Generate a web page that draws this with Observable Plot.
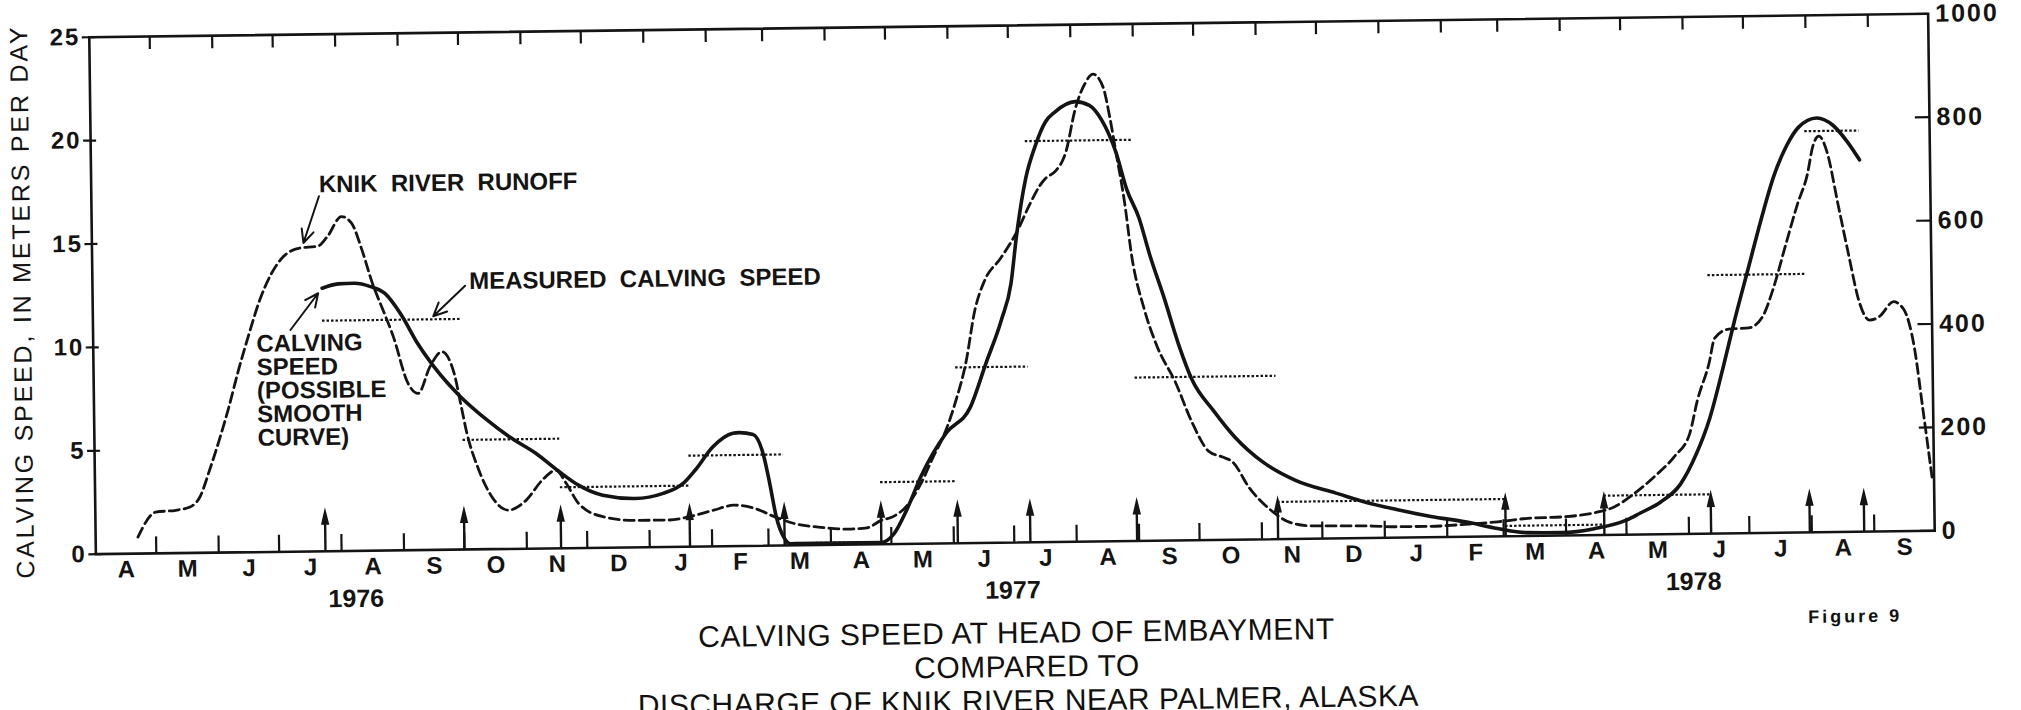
<!DOCTYPE html>
<html>
<head>
<meta charset="utf-8">
<script src="https://cdn.jsdelivr.net/npm/d3@7"></script>
<script src="https://cdn.jsdelivr.net/npm/@observablehq/plot@0.6"></script>
<style>
  html, body { margin: 0; padding: 0; background: #fff; }
  #wrap { position: relative; width: 2021px; height: 710px; transform: rotate(-0.73deg); transform-origin: 1011.75px 283.9px; }
  .tline { position: absolute; width: 1200px; text-align: center; font-family: "Liberation Sans", Arial, Helvetica, sans-serif; font-size: 30px; line-height: 34px; letter-spacing: 0.5px; color: #111; white-space: nowrap; }
  #fig { position: absolute; left: 1751px; top: 617px; width: 200px; text-align: center; font-family: "Liberation Sans", Arial, sans-serif; font-weight: bold; font-size: 18px; line-height: 20px; letter-spacing: 3px; color: #111; }
</style>
</head>
<body>
<div id="wrap">
  <div id="chart"></div>
  <div class="tline" id="t1" style="left:412px; top:616px;"></div>
  <div class="tline" id="t2" style="left:422px; top:650px;"></div>
  <div class="tline" id="t3" style="left:423px; top:684px;"></div>
  <div id="fig"></div>
</div>
<script>
// ---------- DATA ----------
// Knik River runoff (dashed), right-axis units
const runoffDates = [
  "1976-04-22","1976-05-01","1976-05-11","1976-05-18","1976-05-23","1976-05-28","1976-06-02","1976-06-07",
  "1976-06-12","1976-06-17","1976-06-23","1976-06-29","1976-07-05","1976-07-13","1976-07-22","1976-07-27",
  "1976-08-03","1976-08-08","1976-08-13","1976-08-18","1976-08-23","1976-08-28","1976-09-04","1976-09-09",
  "1976-09-15","1976-09-21","1976-09-27","1976-09-30","1976-10-03","1976-10-08","1976-10-15","1976-10-23",
  "1976-11-01","1976-11-09","1976-11-16","1976-11-21","1976-11-27","1976-12-09","1976-12-25",
  "1977-01-11","1977-01-21","1977-02-02","1977-02-12","1977-02-16","1977-02-24","1977-03-04","1977-03-14",
  "1977-03-27","1977-04-09","1977-04-19","1977-04-26","1977-05-02","1977-05-09","1977-05-16","1977-05-22",
  "1977-05-29","1977-06-03","1977-06-08","1977-06-13","1977-06-18","1977-06-26","1977-07-04","1977-07-11",
  "1977-07-16","1977-07-19","1977-07-24","1977-07-29","1977-08-03","1977-08-08","1977-08-12","1977-08-17",
  "1977-08-20","1977-08-23","1977-08-27","1977-08-30","1977-09-05","1977-09-11","1977-09-20","1977-09-28",
  "1977-10-06","1977-10-13","1977-10-18","1977-10-26","1977-11-05","1977-11-15","1977-11-25","1977-12-11",
  "1977-12-26",
  "1978-01-07","1978-01-24","1978-02-10","1978-02-26","1978-03-13","1978-03-30","1978-04-15","1978-04-25",
  "1978-05-05","1978-05-15","1978-05-25","1978-06-02","1978-06-06","1978-06-12","1978-06-15","1978-06-22",
  "1978-07-02","1978-07-09","1978-07-14","1978-07-21","1978-07-27","1978-08-01","1978-08-04","1978-08-07",
  "1978-08-11","1978-08-16","1978-08-21","1978-08-26","1978-08-31","1978-09-05","1978-09-12","1978-09-17",
  "1978-09-22","1978-09-26","1978-09-30"
];
const runoffDischarge = [
  32, 80, 83, 89, 108, 160, 218, 282,
  353, 417, 488, 539, 571, 587, 590, 609,
  647, 634, 582, 517, 466, 414, 323, 303,
  354, 383, 341, 283, 224, 160, 101, 75,
  94, 132, 151, 125, 86, 60, 52,
  52, 58, 70, 79, 78, 70, 56, 42,
  34, 30, 32, 46, 53, 74, 116, 165,
  221, 277, 347, 452, 508, 550, 599, 655,
  690, 704, 718, 753, 837, 886, 904, 878,
  822, 751, 652, 554, 448, 377, 306, 228,
  172, 160, 150, 100, 58, 32, 25, 24,
  23,
  21, 21, 24, 28, 34, 36, 43, 54,
  79, 111, 149, 194, 258, 329, 378, 395,
  397, 419, 468, 559, 636, 692, 748, 766,
  734, 635, 536, 444, 409, 416, 444, 429,
  356, 232, 104
];

// Calving speed, possible smooth curve (solid), m/day
const calvingDates = [
  "1976-07-24","1976-08-01","1976-08-09","1976-08-17","1976-08-24","1976-09-01","1976-09-09","1976-09-17",
  "1976-09-30","1976-10-13","1976-10-24","1976-11-06","1976-11-17","1976-11-27","1976-12-09","1976-12-25",
  "1977-01-08","1977-01-18","1977-01-24","1977-02-02","1977-02-12","1977-02-15","1977-02-22","1977-02-27",
  "1977-03-02","1977-03-05","1977-03-09","1977-03-12","1977-04-26","1977-05-02","1977-05-09","1977-05-16",
  "1977-05-29","1977-06-10","1977-06-18","1977-06-26","1977-07-01","1977-07-04","1977-07-09","1977-07-14",
  "1977-07-19","1977-07-24","1977-08-03","1977-08-10","1977-08-16","1977-08-23","1977-08-28","1977-09-03",
  "1977-09-08","1977-09-15","1977-09-22","1977-09-28","1977-10-09","1977-10-19","1977-11-02","1977-11-18",
  "1977-12-08","1977-12-26",
  "1978-01-07","1978-01-24","1978-02-10","1978-02-26","1978-03-13","1978-03-30","1978-04-15","1978-05-01",
  "1978-05-08","1978-05-18","1978-05-28","1978-06-05","1978-06-12","1978-06-19","1978-06-25","1978-07-02",
  "1978-07-09","1978-07-15","1978-07-22","1978-07-28","1978-08-06","1978-08-14","1978-08-21","1978-08-27"
];
const calvingSpeed = [
  12.72, 12.92, 12.94, 12.77, 12.44, 11.4, 10.0, 8.86,
  7.39, 6.25, 5.42, 4.61, 3.75, 3.04, 2.54, 2.36,
  2.59, 3.06, 3.69, 4.81, 5.45, 5.48, 5.38, 4.40,
  2.99, 1.39, 0.33, 0.08, 0.08, 0.45, 1.68, 3.24,
  5.35, 6.56, 8.67, 10.77, 12.52, 14.8, 17.61, 19.19,
  20.3, 20.8, 21.28, 21.09, 20.38, 18.78, 17.02, 15.6,
  13.84, 11.71, 9.42, 7.82, 6.22, 4.98, 3.73, 2.83,
  2.19, 1.64,
  1.36, 1.0, 0.72, 0.38, 0.16, 0.14, 0.31, 0.70,
  1.04, 1.55, 2.4, 3.83, 5.57, 8.03, 10.31, 12.77,
  15.23, 17.15, 18.73, 19.6, 20.03, 19.67, 18.87, 17.98
];

// Measured calving speed between successive measurement dates (dotted), m/day
const measuredStart = ["1976-07-24","1976-10-01","1976-11-18","1977-01-21","1977-03-09","1977-04-26","1977-06-03",
  "1977-07-09","1977-08-31","1977-11-09","1978-03-02","1978-04-20","1978-06-12","1978-07-31"];
const measuredEnd = ["1976-10-01","1976-11-18","1977-01-21","1977-03-09","1977-04-26","1977-06-03","1977-07-09",
  "1977-08-31","1977-11-09","1978-03-02","1978-04-20","1978-06-12","1978-07-31","1978-08-27"];
const measuredSpeed = [11.15, 5.3, 2.95, 4.4, 0.1, 3.0, 8.5, 19.4, 7.9, 1.8, 0.5, 1.9, 12.5, 19.4];

// Measurement dates (upward arrows)
const measurementDates = ["1976-07-24","1976-10-01","1976-11-18","1977-01-21","1977-03-09","1977-04-26","1977-06-03",
  "1977-07-09","1977-08-31","1977-11-09","1978-03-02","1978-04-20","1978-06-12","1978-07-31","1978-08-27"];

// Axes / labels
const leftTicks = [0, 5, 10, 15, 20, 25];
const rightTicks = [0, 200, 400, 600, 800, 1000];
const monthLetters = ["A","M","J","J","A","S","O","N","D","J","F","M","A","M","J","J","A","S",
  "O","N","D","J","F","M","A","M","J","J","A","S"];
const yearLabels = ["1976", "1977", "1978"];
const yearLabelDates = ["1976-08-08", "1977-06-30", "1978-06-03"];
const yTitle = "CALVING SPEED, IN METERS PER DAY";
const titleLines = ["CALVING SPEED AT HEAD OF EMBAYMENT", "COMPARED TO", "DISCHARGE OF KNIK RIVER NEAR PALMER, ALASKA"];
const figureLabel = "Figure 9";

// annotations (text at date/value, arrows from/to)
const annotTexts = [
  {text: "KNIK  RIVER  RUNOFF", date: "1976-07-23", v: 17.73, anchor: "middle"},
  {text: "MEASURED  CALVING  SPEED", date: "1976-10-05", v: 12.96, anchor: "middle"},
  {text: "CALVING\nSPEED\n(POSSIBLE\nSMOOTH\nCURVE)", date: "1976-06-21", v: 10.5, anchor: "top"}
];
const annotArrows = [
  {d1: "1976-07-23", v1: 17.17, d2: "1976-07-15", v2: 14.92},
  {d1: "1976-10-03", v1: 12.75, d2: "1976-09-17", v2: 11.3},
  {d1: "1976-07-08", v1: 10.72, d2: "1976-07-22", v2: 12.48}
];

// ---------- BUILD ----------
const parse = d3.utcParse("%Y-%m-%d");
const RATIO = 40; // right axis 1000 <-> left axis 25
const x0 = parse("1976-04-01"), x1 = parse("1978-10-01");
const runoff = runoffDates.map((d, i) => ({date: parse(d), q: runoffDischarge[i]}));
const calving = calvingDates.map((d, i) => ({date: parse(d), v: calvingSpeed[i]}));
const measured = measuredStart.map((d, i) => ({start: parse(d), end: parse(measuredEnd[i]), v: measuredSpeed[i]}));
const photos = measurementDates.map(parse);
const monthStarts = d3.utcMonth.range(x0, x1);
const months = monthStarts.map((m, i) => ({letter: monthLetters[i], date: new Date((+m + +d3.utcMonth.offset(m, 1)) / 2)}));
const monthTicks = monthStarts.slice(1);
const years = yearLabels.map((y, i) => ({y, date: parse(yearLabelDates[i])}));
const texts = annotTexts.map(a => ({...a, date: parse(a.date)}));
const arrows = annotArrows.map(a => ({...a, d1: parse(a.d1), d2: parse(a.d2)}));

const ink = "#141414";
const arrowHead = {
  draw(ctx, size) {
    const r = Math.sqrt(size / Math.PI);
    ctx.moveTo(0, -2.3 * r);
    ctx.lineTo(0.55 * r, 0);
    ctx.lineTo(-0.55 * r, 0);
    ctx.closePath();
  }
};

const chart = Plot.plot({
  width: 2021,
  height: 616,
  marginLeft: 92,
  marginRight: 90,
  marginTop: 25,
  marginBottom: 74,
  x: {type: "utc", domain: [x0, x1], axis: null},
  y: {domain: [0, 25], axis: null},
  style: {fontFamily: "'Liberation Sans', Arial, Helvetica, sans-serif", fontSize: "24px", color: ink, background: "#fff", overflow: "visible"},
  marks: [
    Plot.frame({stroke: ink, strokeWidth: 2.6}),
    // month boundary ticks (bottom, pointing up; top, pointing down)
    Plot.ruleX(monthTicks, {x: d => d, y1: 0, y2: 0.8, stroke: ink, strokeWidth: 2.2}),
    Plot.ruleX(monthTicks, {x: d => d, y1: 25, y2: 24.37, stroke: ink, strokeWidth: 2.2}),
    // left axis
    Plot.axisY(leftTicks, {anchor: "left", tickSize: 7, tickPadding: 2, fontSize: 24, fontWeight: "bold", strokeWidth: 2.2, stroke: ink, fill: ink}),
    Plot.ruleY(leftTicks, {y: d => d, x1: x0, x2: d3.utcDay.offset(x0, 3), stroke: ink, strokeWidth: 2.2}),
    // right axis (runoff units)
    Plot.axisY(rightTicks.map(d => d / RATIO), {anchor: "right", tickSize: 0, tickPadding: 7, tickFormat: d => String(Math.round(d * RATIO)), fontSize: 25, fontWeight: "bold", fill: ink}),
    Plot.ruleY(rightTicks.map(d => d / RATIO), {y: d => d, x1: d3.utcDay.offset(x1, -6.5), x2: x1, stroke: ink, strokeWidth: 2.2}),
    // month letters and years
    Plot.text(months, {x: "date", y: 0, text: "letter", dy: 16, lineAnchor: "middle", fontSize: 24, fontWeight: "bold", fill: ink}),
    Plot.text(years, {x: "date", y: 0, text: "y", dy: 48, lineAnchor: "middle", fontSize: 25, fontWeight: "bold", fill: ink}),
    // y title
    Plot.text([yTitle], {frameAnchor: "left", dx: -70, dy: 5, rotate: -90, textAnchor: "middle", lineAnchor: "middle", fontSize: 25, fontWeight: "normal", fill: ink}),
    // measurement arrows
    Plot.ruleX(photos, {x: d => d, y1: 0, y2: 1.35, stroke: ink, strokeWidth: 2.4}),
    Plot.dot(photos, {x: d => d, y: 1.28, symbol: arrowHead, r: 7.6, fill: ink, stroke: null}),
    // measured calving speed (dotted)
    Plot.ruleY(measured, {x1: "start", x2: "end", y: "v", stroke: ink, strokeWidth: 2.2, strokeDasharray: "2.5,2"}),
    // runoff (dashed)
    Plot.line(runoff, {x: "date", y: d => d.q / RATIO, curve: "monotone-x", stroke: ink, strokeWidth: 2.8, strokeDasharray: "10,5"}),
    // calving speed smooth curve (solid)
    Plot.line(calving, {x: "date", y: "v", curve: "monotone-x", stroke: ink, strokeWidth: 3.6}),
    // annotations
    Plot.text(texts.filter(t => t.anchor === "middle"), {x: "date", y: "v", text: "text", textAnchor: "start", lineAnchor: "middle", fontSize: 24, fontWeight: "bold", fill: ink}),
    Plot.text(texts.filter(t => t.anchor === "top"), {x: "date", y: "v", text: "text", textAnchor: "start", lineAnchor: "top", lineHeight: 0.98, fontSize: 24, fontWeight: "bold", fill: ink}),
    Plot.arrow(arrows, {x1: "d1", y1: "v1", x2: "d2", y2: "v2", stroke: ink, strokeWidth: 2, headLength: 11, headAngle: 50})
  ]
});
// widen the lettering where the original typeface is wider
d3.select(chart).selectAll("text").filter(function() { return this.textContent === yTitle; })
  .style("letter-spacing", "2.8px");
d3.select(chart).selectAll("text").filter(function() { return /^\d+$/.test(this.textContent) && this.textContent.length <= 4 && !yearLabels.includes(this.textContent); })
  .style("letter-spacing", "2px");
document.getElementById("chart").append(chart);
document.getElementById("t1").textContent = titleLines[0];
document.getElementById("t2").textContent = titleLines[1];
document.getElementById("t3").textContent = titleLines[2];
document.getElementById("fig").textContent = figureLabel;
</script>
</body>
</html>
